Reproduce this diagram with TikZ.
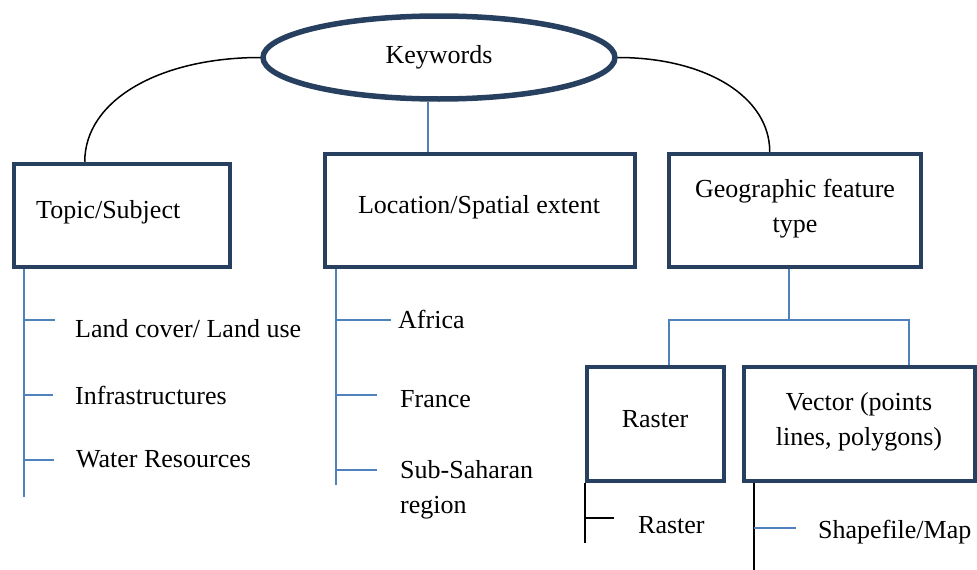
\documentclass[tikz,border=0pt]{standalone}
\usepackage{fontspec}
\setmainfont{Liberation Serif}
\usetikzlibrary{shapes.geometric,calc}
\definecolor{navy}{RGB}{40,64,96}
\definecolor{lblue}{RGB}{79,129,189}
\begin{document}
\begin{tikzpicture}[x=1pt,y=-1pt,
  box/.style={draw=navy,line width=4.5pt,rectangle,inner sep=0pt},
  kwell/.style={draw=navy,line width=5.5pt,ellipse,inner sep=0pt,minimum width=352pt,minimum height=83pt},
  ltxt/.style={font=\fontsize{26}{35}\selectfont,inner sep=0pt,anchor=base west,align=left},
  ctxt/.style={font=\fontsize{26}{35}\selectfont,inner sep=0pt,anchor=base,align=center},
  arcline/.style={draw=black,line width=1.5pt},
  bl/.style={draw=lblue,line width=1.5pt},
  bk/.style={draw=black,line width=1.8pt}]
\useasboundingbox (0,0) rectangle (977,570);
% main nodes
\node[kwell] (kw) at (439,57.5) {};
\node[ctxt] (kwt) at (439,63) {Keywords};
\node[box,minimum width=216pt,minimum height=103pt] (topic) at (122,215.5) {};
\node[ltxt] (topict) at (36,218) {Topic/Subject};
\node[box,minimum width=310pt,minimum height=113pt] (loc) at (480,210.5) {};
\node[ctxt] (loct) at (479,213) {Location/Spatial extent};
\node[box,minimum width=252pt,minimum height=113pt] (geo) at (795,210.5) {};
\node[ctxt] (geot) at (795,232) {Geographic feature\\type};
\node[box,minimum width=137pt,minimum height=114pt] (raster) at (655.5,424) {};
\node[ctxt] (rastert) at (655,427) {Raster};
\node[box,minimum width=231pt,minimum height=114pt] (vector) at (859.5,424) {};
\node[ctxt] (vectort) at (859,445) {Vector (points\\lines, polygons)};
% arcs from Keywords
\draw[arcline] (kw.west) .. controls +(-100,0) and +(0,-62) .. ([xshift=73pt]topic.north west);
\draw[arcline] (kw.east) .. controls +(88,0) and +(0,-55) .. ([xshift=103pt]geo.north west);
\coordinate (kb) at ([xshift=-11pt]kw.south);
\draw[bl] (kb) -- (kb |- loc.north);
% geographic split
\coordinate (gs) at (789,320);
\coordinate (gr) at ([xshift=13.5pt]raster.north);
\coordinate (gv) at ([xshift=49.5pt]vector.north);
\draw[bl] (gs |- geo.south) -- (gs) -| (gr);
\draw[bl] (gs) -| (gv);
% topic list
\node[ltxt] (lc) at (75,337) {Land cover/ Land use};
\node[ltxt] (inf) at (75,404.5) {Infrastructures};
\node[ltxt] (wr) at (76,467.5) {Water Resources};
\coordinate (t0) at ([xshift=12pt]topic.south west);
\draw[bl] (t0) -- ++(0,228);
\draw[bl] (t0 |- 0,320) -- ++(31,0);
\draw[bl] (t0 |- 0,395) -- ++(29,0);
\draw[bl] (t0 |- 0,460) -- ++(30,0);
% location list
\node[ltxt] (af) at (398,328.5) {Africa};
\node[ltxt] (fr) at (400,407.5) {France};
\node[ltxt] (ss) at (400,513) {Sub-Saharan\\region};
\coordinate (l0) at ([xshift=13pt]loc.south west);
\draw[bl] (l0) -- ++(0,216);
\draw[bl] (l0 |- 0,320) -- ++(55,0);
\draw[bl] (l0 |- 0,395) -- ++(41,0);
\draw[bl] (l0 |- 0,470) -- ++(41,0);
% raster list
\node[ltxt] (rl) at (638,533) {Raster};
\coordinate (r0) at (raster.south west);
\draw[bk] (r0) -- ++(0,60);
\draw[bk] (r0 |- 0,518) -- ++(29,0);
% vector list
\node[ltxt] (sm) at (818,538) {Shapefile/Map};
\coordinate (v0) at ([xshift=12pt]vector.south west);
\draw[bk] (v0) -- ++(0,90);
\draw[bl] (v0 |- 0,528) -- ++(42,0);
\end{tikzpicture}
\end{document}
